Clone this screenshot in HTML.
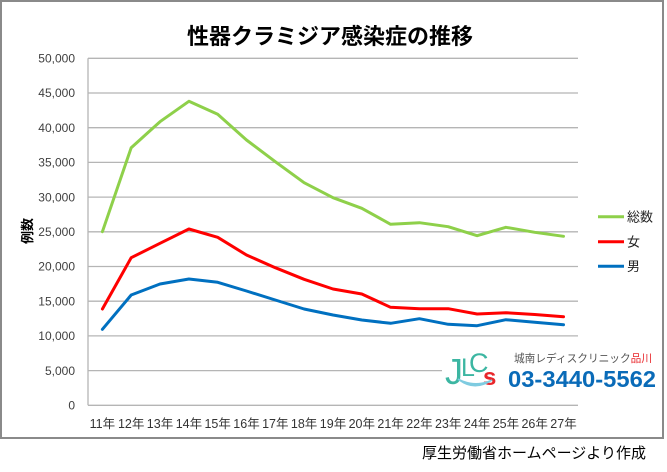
<!DOCTYPE html>
<html><head><meta charset="utf-8"><style>
html,body{margin:0;padding:0;background:#fff;}
svg{display:block;}
.jp{font-family:"Liberation Sans","Noto Sans CJK JP",sans-serif;}
</style></head><body>
<svg width="667" height="472" viewBox="0 0 667 472" xmlns="http://www.w3.org/2000/svg">
<rect x="0" y="0" width="667" height="472" fill="#fff"/>
<rect x="1" y="1" width="662" height="437" fill="#fff" stroke="#8a8a8a" stroke-width="2"/>
<text x="330" y="44" text-anchor="middle" class="jp" font-size="22" font-weight="bold" fill="#000">性器クラミジア感染症の推移</text>
<g stroke="#b5b5b5" stroke-width="1.3">
<line x1="88" y1="58.3" x2="578" y2="58.3"/>
<line x1="88" y1="93" x2="578" y2="93"/>
<line x1="88" y1="127.7" x2="578" y2="127.7"/>
<line x1="88" y1="162.4" x2="578" y2="162.4"/>
<line x1="88" y1="197.1" x2="578" y2="197.1"/>
<line x1="88" y1="231.8" x2="578" y2="231.8"/>
<line x1="88" y1="266.5" x2="578" y2="266.5"/>
<line x1="88" y1="301.2" x2="578" y2="301.2"/>
<line x1="88" y1="335.9" x2="578" y2="335.9"/>
<line x1="88" y1="370.6" x2="578" y2="370.6"/>
<line x1="88" y1="405.3" x2="578" y2="405.3"/>
<line x1="88" y1="58.3" x2="88" y2="405.3"/>
</g>
<g class="jp" font-size="12" fill="#404040" text-anchor="end">
<text x="75" y="62.5">50,000</text>
<text x="75" y="97.2">45,000</text>
<text x="75" y="131.9">40,000</text>
<text x="75" y="166.6">35,000</text>
<text x="75" y="201.3">30,000</text>
<text x="75" y="236">25,000</text>
<text x="75" y="270.7">20,000</text>
<text x="75" y="305.4">15,000</text>
<text x="75" y="340.1">10,000</text>
<text x="75" y="374.8">5,000</text>
<text x="75" y="409.5">0</text>
</g>
<text transform="translate(32,231) rotate(-90)" text-anchor="middle" class="jp" font-size="13" font-weight="bold" fill="#000">例数</text>
<g class="jp" font-size="12.5" fill="#333" text-anchor="middle">
<text x="102.4" y="428">11年</text><text x="131.2" y="428">12年</text><text x="160" y="428">13年</text><text x="188.9" y="428">14年</text><text x="217.7" y="428">15年</text><text x="246.5" y="428">16年</text><text x="275.3" y="428">17年</text><text x="304.1" y="428">18年</text><text x="333" y="428">19年</text><text x="361.8" y="428">20年</text><text x="390.6" y="428">21年</text><text x="419.4" y="428">22年</text><text x="448.2" y="428">23年</text><text x="477.1" y="428">24年</text><text x="505.9" y="428">25年</text><text x="534.7" y="428">26年</text><text x="563.5" y="428">27年</text>
</g>
<!-- logo background -->
<rect x="442" y="342" width="218" height="56" fill="#fff"/>
<g fill="none" stroke-width="3" stroke-linejoin="round" stroke-linecap="round">
<polyline stroke="#8ed04a" points="102.4,231.7 131.2,147.7 160,121.7 188.9,101.3 217.7,114.3 246.5,140 275.3,161.7 304.1,182.7 333,197.7 361.8,208.3 390.6,224.3 419.4,222.7 448.2,226.7 477.1,235.7 505.9,227.3 534.7,232.3 563.5,236.3"/>
<polyline stroke="#ff0000" points="102.4,309 131.2,257.7 160,243.3 188.9,229 217.7,237.3 246.5,255 275.3,267.7 304.1,279.3 333,289 361.8,294 390.6,307.3 419.4,308.7 448.2,308.7 477.1,314 505.9,312.7 534.7,314.5 563.5,316.7"/>
<polyline stroke="#0070c0" points="102.4,329.3 131.2,295 160,284 188.9,279 217.7,282.3 246.5,291 275.3,300 304.1,309 333,315 361.8,320 390.6,323.3 419.4,318.7 448.2,324.3 477.1,325.7 505.9,319.7 534.7,322.3 563.5,324.7"/>
</g>
<!-- legend -->
<g stroke-width="3">
<line x1="598" y1="216.7" x2="624" y2="216.7" stroke="#8ed04a"/>
<line x1="598" y1="241.7" x2="624" y2="241.7" stroke="#ff0000"/>
<line x1="598" y1="266.3" x2="624" y2="266.3" stroke="#0070c0"/>
</g>
<g class="jp" font-size="13" fill="#222">
<text x="627" y="221.5">総数</text>
<text x="627" y="246.5">女</text>
<text x="627" y="271">男</text>
</g>
<!-- logo -->
<text x="445" y="384" font-size="36" fill="#3cb6a2" font-family="Liberation Sans, sans-serif">J</text>
<text x="461" y="376" font-size="25" fill="#3cb6a2" font-family="Liberation Sans, sans-serif">L</text>
<text x="469" y="372" font-size="27" fill="#3cb6a2" font-family="Liberation Sans, sans-serif">C</text>
<text x="483" y="385" font-size="24" font-weight="bold" fill="#e8262b" font-family="Liberation Sans, sans-serif">s</text>
<path d="M458,379 Q474,392 492,380 Q475,388 458,379 Z" fill="#7fcbe0" stroke="#7fcbe0" stroke-width="1.5"/>
<text x="514" y="362" class="jp" font-size="11" fill="#555" textLength="138" lengthAdjust="spacingAndGlyphs">城南レディスクリニック<tspan fill="#e8262b">品川</tspan></text>
<text x="508" y="387" font-family="Liberation Sans, sans-serif" font-size="23" font-weight="bold" fill="#0a6bb8" textLength="148" lengthAdjust="spacingAndGlyphs">03-3440-5562</text>
<text x="534" y="458" text-anchor="middle" class="jp" font-size="15" fill="#000">厚生労働省ホームページより作成</text>
</svg>
</body></html>
